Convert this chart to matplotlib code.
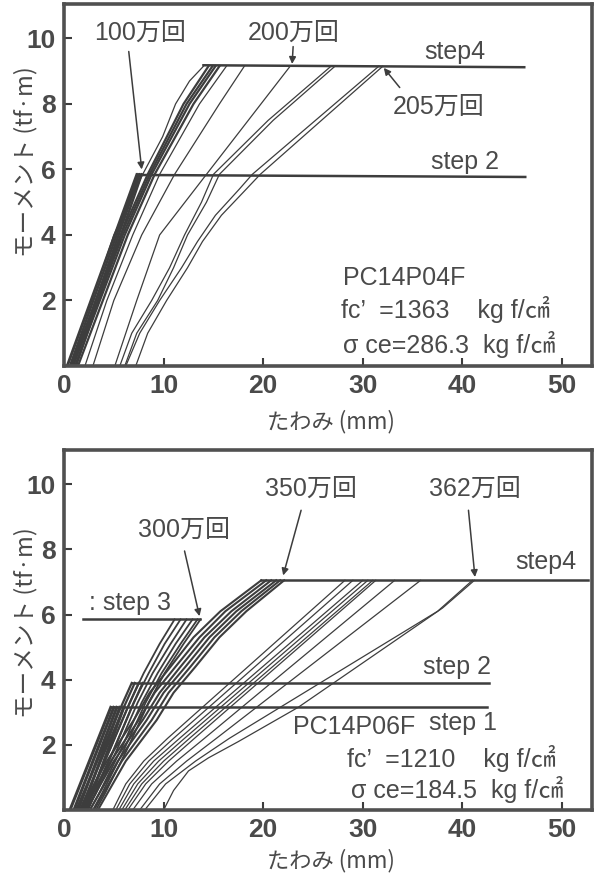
import matplotlib
matplotlib.use("Agg")
import matplotlib.pyplot as plt
from matplotlib import font_manager

# ---------------- data ----------------
# Top panel: PC14P04F
top_step2_curves = [  # cycles loaded to step 2 (end at step2 line)
    ([0.3, 7.3], [0.0, 5.85]),
    ([0.6, 7.45], [0.0, 5.85]),
    ([0.9, 7.6], [0.0, 5.85]),
    ([1.2, 7.8], [0.0, 5.85]),
]
top_step4_curves = [  # cycles loaded to step 4
    ([0.4, 2.8, 5.0, 7.9, 9.9, 11.2, 12.6, 14.0], [0, 2, 4, 5.85, 7, 8, 8.7, 9.15]),
    ([0.7, 3.2, 5.7, 8.4, 12.0, 14.5], [0, 2, 4, 5.85, 8, 9.15]),
    ([0.9, 3.4, 5.9, 8.6, 12.3, 14.9], [0, 2, 4, 5.85, 8, 9.15]),
    ([1.1, 3.6, 6.1, 8.8, 12.6, 15.2], [0, 2, 4, 5.85, 8, 9.15]),
    ([1.4, 3.9, 6.4, 9.1, 13.0, 15.6], [0, 2, 4, 5.85, 8, 9.15]),
    ([2.1, 4.3, 6.9, 9.6, 13.6, 16.3], [0, 2, 4, 5.85, 8, 9.15]),
    ([2.9, 5.0, 7.8, 11.1, 15.6, 18.1], [0, 2, 4, 5.85, 8, 9.15]),
    ([5.1, 7.3, 9.6, 14.3, 22.7], [0, 2, 4, 5.85, 9.15]),
    ([5.6, 6.8, 8.8, 10.6, 12.1, 13.8, 15.0, 20.5, 26.8], [0, 1, 2, 3, 4, 5, 5.85, 7.5, 9.15]),
    ([6.1, 7.3, 9.4, 11.0, 12.4, 14.3, 15.6, 21.0, 27.2], [0, 1, 2, 3, 4, 5, 5.85, 7.5, 9.15]),
    ([6.2, 7.6, 9.6, 11.8, 13.4, 15.2, 17.6, 18.9, 31.6], [0, 1, 2, 3, 3.8, 4.6, 5.4, 5.85, 9.15]),
    ([7.2, 8.4, 10.3, 12.4, 13.9, 15.8, 18.3, 19.7, 32.0], [0, 1, 2, 3, 3.8, 4.6, 5.4, 5.85, 9.15]),
]
top_levels_x = [[7.75, 46.3], [14.0, 46.2]]      # step2, step4
top_levels_y = [[5.83, 5.77], [9.18, 9.12]]

# Bottom panel: PC14P06F
bot_step1_curves = [
    ([0.6, 4.7], [0, 3.15]), ([1.0, 5.0], [0, 3.15]), ([1.4, 5.3], [0, 3.15]),
    ([1.8, 5.6], [0, 3.15]), ([2.2, 6.0], [0, 3.15]),
]
bot_step2_curves = [
    ([1.2, 5.7, 6.8], [0, 3.15, 3.9]), ([1.6, 6.0, 7.1], [0, 3.15, 3.9]),
    ([2.0, 6.4, 7.5], [0, 3.15, 3.9]), ([2.4, 6.8, 7.9], [0, 3.15, 3.9]),
]
bot_step3_curves = [
    ([1.8, 2.6, 4.6, 6.6, 8.0, 9.6, 11.1], [0, 0.5, 1.84, 3.3, 4.2, 5.1, 5.85]),
    ([2.0, 2.9, 5.0, 7.0, 8.5, 10.1, 11.7], [0, 0.5, 1.84, 3.3, 4.2, 5.1, 5.85]),
    ([2.3, 3.2, 5.3, 7.4, 8.9, 10.7, 12.3], [0, 0.5, 1.84, 3.3, 4.2, 5.1, 5.85]),
    ([2.6, 3.5, 5.7, 7.8, 9.4, 11.2, 12.9], [0, 0.5, 1.84, 3.3, 4.2, 5.1, 5.85]),
    ([2.9, 3.8, 6.0, 8.2, 9.8, 11.7, 13.4], [0, 0.5, 1.84, 3.3, 4.2, 5.1, 5.85]),
    ([3.2, 4.1, 6.3, 8.5, 10.1, 12.0, 13.7], [0, 0.5, 1.84, 3.3, 4.2, 5.1, 5.85]),
]
bot_step4_curves = [
    ([1.6, 4.3, 7.0, 8.6, 10.7, 13.0, 15.7, 19.8], [0, 1.5, 2.76, 3.6, 4.4, 5.3, 6.1, 7.05]),
    ([1.9, 4.7, 7.5, 9.1, 11.2, 13.6, 16.2, 20.3], [0, 1.5, 2.76, 3.6, 4.4, 5.3, 6.1, 7.05]),
    ([2.2, 5.0, 7.9, 9.6, 11.7, 14.1, 16.8, 20.8], [0, 1.5, 2.76, 3.6, 4.4, 5.3, 6.1, 7.05]),
    ([2.6, 5.4, 8.3, 10.0, 12.2, 14.6, 17.3, 21.3], [0, 1.5, 2.76, 3.6, 4.4, 5.3, 6.1, 7.05]),
    ([3.0, 5.8, 8.8, 10.5, 12.7, 15.1, 17.8, 21.7], [0, 1.5, 2.76, 3.6, 4.4, 5.3, 6.1, 7.05]),
    ([3.4, 6.2, 9.3, 11.0, 13.2, 15.6, 18.3, 22.1], [0, 1.5, 2.76, 3.6, 4.4, 5.3, 6.1, 7.05]),
    ([4.9, 6.2, 8.0, 10.4, 28.2], [0, 0.8, 1.5, 2.2, 7.05]),
    ([5.2, 6.6, 8.5, 11.0, 29.0], [0, 0.8, 1.5, 2.2, 7.05]),
    ([5.5, 7.0, 9.0, 11.6, 30.0], [0, 0.8, 1.5, 2.2, 7.05]),
    ([5.8, 7.4, 9.5, 12.1, 30.5], [0, 0.8, 1.5, 2.2, 7.05]),
    ([6.1, 7.8, 10.0, 12.6, 31.0], [0, 0.8, 1.5, 2.2, 7.05]),
    ([6.4, 8.2, 10.5, 13.1, 31.3], [0, 0.8, 1.5, 2.2, 7.05]),
    ([6.9, 8.8, 11.3, 14.1, 33.2], [0, 0.8, 1.5, 2.2, 7.05]),
    ([7.6, 9.6, 12.3, 15.3, 35.8], [0, 0.8, 1.5, 2.2, 7.05]),
    ([8.1, 10.2, 13.2, 16.6, 37.5, 41.0], [0, 0.8, 1.5, 2.2, 6.1, 7.05]),
    ([10.0, 11.0, 12.5, 14.5, 17.5, 23.5, 38.0, 41.2], [0, 0.6, 1.2, 1.6, 2.1, 3.15, 6.2, 7.05]),
]
bot_levels_x = [[4.7, 42.5], [6.8, 42.7], [1.9, 13.7], [19.8, 52.6]]   # step1..step4
bot_levels_y = [[3.15, 3.15], [3.9, 3.9], [5.85, 5.85], [7.05, 7.05]]

x_ticks = [0, 10, 20, 30, 40, 50]
y_ticks = [2, 4, 6, 8, 10]

# ---------------- fonts ----------------
names = {f.name for f in font_manager.fontManager.ttflist}
LAT = 'Liberation Sans Narrow' if 'Liberation Sans Narrow' in names else 'Liberation Sans'
FAM = [LAT, 'Noto Sans CJK JP', 'DejaVu Sans']
JFAM = ['Noto Sans CJK JP', 'DejaVu Sans']
plt.rcParams['font.family'] = FAM

LC = '#3d3d3d'
TC = '#4a4a4a'

fig = plt.figure(figsize=(5.99, 8.75), dpi=100)
ax1 = fig.add_axes([64 / 599, 1 - 366 / 875, 528 / 599, 362 / 875])
ax2 = fig.add_axes([64 / 599, 1 - 810 / 875, 528 / 599, 360 / 875])


def style(ax, ylab_y, xlab_y):
    ax.set_xlim(0, 53)
    ax.set_ylim(0, 11.05)
    ax.set_xticks(x_ticks)
    ax.set_yticks(y_ticks)
    ax.set_xticklabels([str(v) for v in x_ticks])
    ax.set_yticklabels([str(v) for v in y_ticks])
    ax.tick_params(direction='in', length=6, width=1.5, color=LC,
                   labelsize=19, labelcolor=TC, pad=6)
    for lab in ax.get_xticklabels() + ax.get_yticklabels():
        lab.set_fontweight('bold')
        lab.set_family([LAT, 'DejaVu Sans'])
    for s in ax.spines.values():
        s.set_linewidth(2.6)
        s.set_color('#505050')
    ax.set_ylabel('モーメント (tf·m)', fontsize=17, color=TC, family=JFAM)
    ax.yaxis.set_label_coords(-0.05, ylab_y)
    ax.set_xlabel('たわみ (mm)', fontsize=16, color=TC, family=JFAM)
    ax.xaxis.set_label_coords(0.505, xlab_y)


style(ax1, 0.565, -0.122)
style(ax2, 0.52, -0.107)

# ---- top panel ----
for xs, ys in top_step2_curves:
    ax1.plot(xs, ys, color=LC, lw=1.8)
for i, (xs, ys) in enumerate(top_step4_curves):
    lw = 1.6 if 1 <= i <= 4 else 0.9
    ax1.plot(xs, ys, color=LC, lw=lw)
for xs, ys in zip(top_levels_x, top_levels_y):
    ax1.plot(xs, ys, color=LC, lw=1.8)

ap = dict(arrowstyle='-|>', color=LC, lw=1.1, mutation_scale=10, shrinkA=0, shrinkB=0)
tk = dict(color=TC, fontsize=18, family=FAM, va='center')
ax1.text(7.6, 10.17, '100万回', ha='center', **tk)
ax1.text(23.1, 10.17, '200万回', ha='center', **tk)
ax1.text(37.6, 7.9, '205万回', ha='center', **tk)
ax1.annotate('', xy=(7.8, 6.0), xytext=(6.5, 9.6), arrowprops=ap)
ax1.annotate('', xy=(22.9, 9.22), xytext=(23.0, 9.75), arrowprops=ap)
ax1.annotate('', xy=(32.1, 9.1), xytext=(33.7, 8.5), arrowprops=ap)
ax1.text(36.2, 9.6, 'step4', ha='left', **tk)
ax1.text(36.8, 6.23, 'step 2', ha='left', **tk)
ax1.text(28.0, 2.7, 'PC14P04F', ha='left', **tk)
ax1.text(27.8, 1.73, 'fc’  =1363    kg f/㎠', ha='left', **tk)
ax1.text(28.0, 0.66, 'σ ce=286.3  kg f/㎠', ha='left', **tk)

# ---- bottom panel ----
for xs, ys in bot_step1_curves:
    ax2.plot(xs, ys, color=LC, lw=2.2)
for xs, ys in bot_step2_curves:
    ax2.plot(xs, ys, color=LC, lw=1.6)
for xs, ys in bot_step3_curves:
    ax2.plot(xs, ys, color=LC, lw=1.3)
for i, (xs, ys) in enumerate(bot_step4_curves):
    lw = 1.5 if i < 6 else 0.9
    ax2.plot(xs, ys, color=LC, lw=lw)
for xs, ys in zip(bot_levels_x, bot_levels_y):
    ax2.plot(xs, ys, color=LC, lw=1.8)

ax2.text(2.5, 6.36, ': step 3', ha='left', **tk)
ax2.text(12.0, 8.6, '300万回', ha='center', **tk)
ax2.text(24.8, 9.87, '350万回', ha='center', **tk)
ax2.text(41.2, 9.87, '362万回', ha='center', **tk)
ax2.annotate('', xy=(13.6, 5.95), xytext=(12.1, 7.95), arrowprops=ap)
ax2.annotate('', xy=(22.0, 7.2), xytext=(23.8, 9.2), arrowprops=ap)
ax2.annotate('', xy=(41.25, 7.15), xytext=(40.6, 9.2), arrowprops=ap)
ax2.text(45.3, 7.6, 'step4', ha='left', **tk)
ax2.text(36.0, 4.4, 'step 2', ha='left', **tk)
ax2.text(23.0, 2.56, 'PC14P06F', ha='left', **tk)
ax2.text(36.6, 2.67, 'step 1', ha='left', **tk)
ax2.text(28.4, 1.59, 'fc’  =1210    kg f/㎠', ha='left', **tk)
ax2.text(28.8, 0.62, 'σ ce=184.5  kg f/㎠', ha='left', **tk)

fig.savefig('out.png', dpi=100, facecolor='white')
